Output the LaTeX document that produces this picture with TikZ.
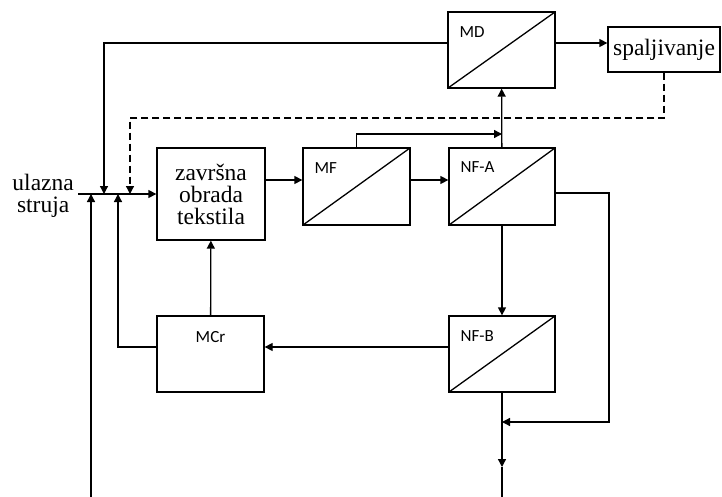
\documentclass[tikz,border=0pt]{standalone}
\usepackage{fontspec}
\setmainfont{Liberation Serif}
\newfontfamily\lblfont{Carlito}
\usetikzlibrary{arrows.meta}
\tikzset{
  tok/.style={line width=1.3pt, -{Triangle[length=8pt,width=8pt]}},
  blok/.style={draw, line width=1.3pt, inner sep=0pt},
  membrana/.style={blok, path picture={\draw[line width=1.3pt] (path picture bounding box.south west) -- (path picture bounding box.north east);}},
  oznaka/.style={font=\lblfont\fontsize{17}{19}\selectfont, inner sep=0pt},
  tekst/.style={font=\fontsize{23.5}{22}\selectfont, align=center, inner sep=0pt}
}
\begin{document}
\begin{tikzpicture}[x=1pt,y=-1pt]
\useasboundingbox (0,0) rectangle (722,497);
% Blokovi
\node[blok, minimum width=108pt, minimum height=92pt, tekst] (zav) at (211,194) {završna\\obrada\\tekstila};
\node[membrana, minimum width=107pt, minimum height=76pt] (md) at (501.5,50) {};
\node[blok, minimum width=112pt, minimum height=45pt, tekst] (spal) at (664,49.5) {spaljivanje};
\node[membrana, minimum width=107pt, minimum height=77pt] (mf) at (356.5,186.5) {};
\node[membrana, minimum width=106pt, minimum height=77pt] (nfa) at (502,186.5) {};
\node[blok, minimum width=107pt, minimum height=76pt] (mcr) at (210.5,354) {};
\node[membrana, minimum width=106pt, minimum height=76pt] (nfb) at (502,354) {};
% Oznake
\node[oznaka, anchor=base west] (mdt) at ([xshift=12pt,yshift=-26pt]md.north west) {MD};
\node[oznaka, anchor=base west] (mft) at ([xshift=12pt,yshift=-26pt]mf.north west) {MF};
\node[oznaka, anchor=base west] (nfat) at ([xshift=12pt,yshift=-25pt]nfa.north west) {NF-A};
\node[oznaka, anchor=base west] (nfbt) at ([xshift=12pt,yshift=-26pt]nfb.north west) {NF-B};
\node[oznaka, anchor=base] (mcrt) at ([yshift=-27pt]mcr.north) {MCr};
\node[tekst, anchor=east] (ulaz) at (74,196) {ulazna\\struja};
% Tocke
\coordinate (in) at (78,194);
\coordinate (j1) at (104,194);
\coordinate (j2) at (130,194);
\coordinate (j3) at (91,194);
\coordinate (j4) at (118,194);
\coordinate (d1) at (130,118);
\coordinate (b1) at (91,497);
\coordinate (j5) at (502,134);
\coordinate (r1) at (609,422);
\coordinate (j6) at (502,422);
\coordinate (m1) at (502,467);
\coordinate (b2) at (502,497);
% Ulazna struja
\draw[tok] (in) -- (zav.west);
\draw[tok] ([yshift=7pt]md.west) -| (j1);
\draw[tok, dash pattern=on 7pt off 4pt] (spal.south) |- (d1) -- (j2);
\draw[tok] (b1) -- (j3);
\draw[tok] ([yshift=7pt]mcr.west) -| (j4);
\draw[tok] (mcr) -- (zav);
% Membrane
\draw[tok] (zav.east |- 0,180) -- ([yshift=6.5pt]mf.west);
\draw[tok] ([yshift=6.5pt]mf.east) -- ([yshift=6.5pt]nfa.west);
\draw[tok] (mf.north) |- (j5);
\draw[tok] (nfa) -- (md);
\draw[tok] ([yshift=7pt]md.east) -- ([yshift=7pt]md.east -| spal.west);
\draw[tok] (nfa) -- (nfb);
\draw[tok] ([yshift=-6.5pt]nfa.east) -| (r1) -- (j6);
\draw[tok] ([yshift=7pt]nfb.west) -- ([yshift=7pt]nfb.west -| mcr.east);
\draw[tok] (nfb) -- (m1);
\draw[line width=1.3pt] (m1) -- (b2);
\end{tikzpicture}
\end{document}
